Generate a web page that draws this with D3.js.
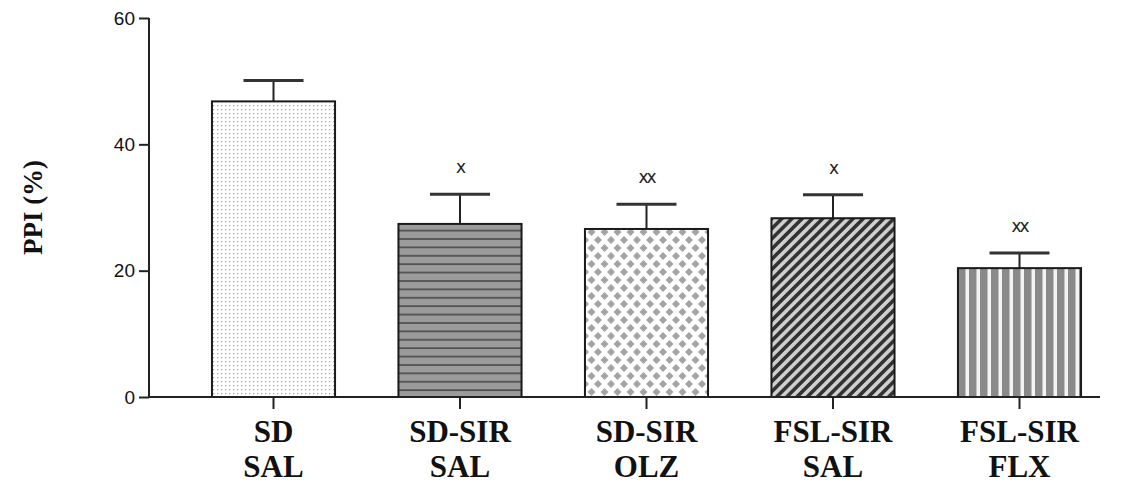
<!DOCTYPE html>
<html>
<head>
<meta charset="utf-8">
<script src="https://cdn.jsdelivr.net/npm/d3@7"></script>
<style>
  html, body { margin: 0; padding: 0; background: #fff; }
  svg { display: block; }
</style>
</head>
<body>
<svg id="chart" width="1145" height="485"></svg>
<script>
// Group labels (two lines each)
const groupLine1 = ["SD", "SD-SIR", "SD-SIR", "FSL-SIR", "FSL-SIR"];
const groupLine2 = ["SAL", "SAL", "OLZ", "SAL", "FLX"];
// Mean PPI (%) and SEM per group
const ppiMean = [46.8, 27.4, 26.6, 28.3, 20.4];
const ppiSem = [3.3, 4.7, 3.9, 3.7, 2.4];
// Significance markers
const sigMarks = ["", "x", "xx", "x", "xx"];
// Y axis ticks
const yTicks = [0, 20, 40, 60];

const groupKeys = groupLine1.map((d, i) => d + " " + groupLine2[i]);
const svg = d3.select("#chart");

// ---- fill patterns ----
const defs = svg.append("defs");

// fine dots
const p0 = defs.append("pattern").attr("id", "pat0").attr("patternUnits", "userSpaceOnUse")
  .attr("width", 4).attr("height", 4);
p0.append("rect").attr("width", 4).attr("height", 4).attr("fill", "#fff");
p0.append("rect").attr("x", 1).attr("y", 1).attr("width", 1.3).attr("height", 1.3).attr("fill", "#a8a8a8");

// horizontal lines on gray
const p1 = defs.append("pattern").attr("id", "pat1").attr("patternUnits", "userSpaceOnUse")
  .attr("width", 8).attr("height", 8.4);
p1.append("rect").attr("width", 8).attr("height", 8.4).attr("fill", "#9b9b9b");
p1.append("rect").attr("x", 0).attr("y", 3).attr("width", 8).attr("height", 1.6).attr("fill", "#4a4a4a");

// diamond lattice
const p2 = defs.append("pattern").attr("id", "pat2").attr("patternUnits", "userSpaceOnUse")
  .attr("width", 13).attr("height", 16);
p2.append("rect").attr("width", 13).attr("height", 16).attr("fill", "#fff");
const dia = (cx, cy, r) => `M${cx},${cy - r}L${cx + r},${cy}L${cx},${cy + r}L${cx - r},${cy}Z`;
[[0, 0], [13, 0], [0, 16], [13, 16], [6.5, 8]].forEach(([cx, cy]) => {
  p2.append("path").attr("d", dia(cx, cy, 4)).attr("fill", "#a4a4a4");
});

// diagonal stripes
const p3 = defs.append("pattern").attr("id", "pat3").attr("patternUnits", "userSpaceOnUse")
  .attr("width", 7.2).attr("height", 7.2).attr("patternTransform", "rotate(45)");
p3.append("rect").attr("width", 7.2).attr("height", 7.2).attr("fill", "#cfcfcf");
p3.append("rect").attr("x", 0).attr("width", 3.6).attr("height", 7.2).attr("fill", "#333");

// vertical stripes
const p4 = defs.append("pattern").attr("id", "pat4").attr("patternUnits", "userSpaceOnUse")
  .attr("width", 11).attr("height", 10).attr("x", 1);
p4.append("rect").attr("width", 11).attr("height", 10).attr("fill", "#8a8a8a");
p4.append("rect").attr("x", 7.5).attr("width", 3.5).attr("height", 10).attr("fill", "#f4f4f4");

const fills = ["url(#pat0)", "url(#pat1)", "url(#pat2)", "url(#pat3)", "url(#pat4)"];

// ---- scales ----
const y = d3.scaleLinear().domain([0, 60]).range([397, 18]);
const x = d3.scaleBand().domain(groupKeys).range([180.25, 1112.75])
  .paddingInner(0.34).paddingOuter(0.17);
const axisX = 149;

// ---- y axis ----
const yAxis = svg.append("g").attr("transform", `translate(${axisX},0)`)
  .call(d3.axisLeft(y).tickValues(yTicks).tickSize(10).tickPadding(4));
yAxis.select(".domain").attr("stroke", "#222").attr("stroke-width", 2)
  .attr("d", `M0,${y(60)}V${y(0)}`);
yAxis.selectAll(".tick line").attr("stroke", "#222").attr("stroke-width", 2);
yAxis.selectAll(".tick text").attr("font-family", "Liberation Sans, Arial, sans-serif")
  .attr("font-size", 19).attr("fill", "#111");

// y title
svg.append("text")
  .attr("transform", `translate(42,${(y(0) + y(60)) / 2}) rotate(-90)`)
  .attr("text-anchor", "middle")
  .attr("font-family", "Liberation Serif, Times New Roman, serif")
  .attr("font-weight", "bold").attr("font-size", 27).attr("fill", "#111")
  .text("PPI (%)");

// ---- bars ----
const bars = svg.append("g");
groupKeys.forEach((k, i) => {
  const x0 = x(k), bw = x.bandwidth(), cx = x0 + bw / 2;
  const top = y(ppiMean[i]);
  const errTop = y(ppiMean[i] + ppiSem[i]);
  // error bar (upper only)
  bars.append("line").attr("x1", cx).attr("x2", cx).attr("y1", top).attr("y2", errTop)
    .attr("stroke", "#222").attr("stroke-width", 2);
  bars.append("line").attr("x1", cx - 30).attr("x2", cx + 30).attr("y1", errTop).attr("y2", errTop)
    .attr("stroke", "#333").attr("stroke-width", 3);
  // bar
  bars.append("rect").attr("x", x0).attr("y", top).attr("width", bw).attr("height", y(0) - top)
    .attr("fill", fills[i]).attr("stroke", "#1a1a1a").attr("stroke-width", 2);
  // significance marker
  if (sigMarks[i]) {
    bars.append("text").attr("x", cx).attr("y", errTop - 21)
      .attr("text-anchor", "middle")
      .attr("font-family", "DejaVu Sans, sans-serif").attr("font-size", 17).attr("fill", "#222")
      .attr("letter-spacing", -2)
      .text(sigMarks[i]);
  }
});

// ---- x axis ----
svg.append("line").attr("x1", axisX - 1).attr("x2", 1100).attr("y1", y(0)).attr("y2", y(0))
  .attr("stroke", "#222").attr("stroke-width", 2);
const xl = svg.append("g");
groupKeys.forEach((k, i) => {
  const cx = x(k) + x.bandwidth() / 2;
  xl.append("line").attr("x1", cx).attr("x2", cx).attr("y1", y(0)).attr("y2", y(0) + 12)
    .attr("stroke", "#222").attr("stroke-width", 2);
  const t = xl.append("text").attr("text-anchor", "middle")
    .attr("font-family", "Liberation Serif, Times New Roman, serif")
    .attr("font-weight", "bold").attr("font-size", 31).attr("fill", "#111");
  t.append("tspan").attr("x", cx).attr("y", 442).text(groupLine1[i]);
  t.append("tspan").attr("x", cx).attr("y", 477).text(groupLine2[i]);
});
</script>
</body>
</html>
